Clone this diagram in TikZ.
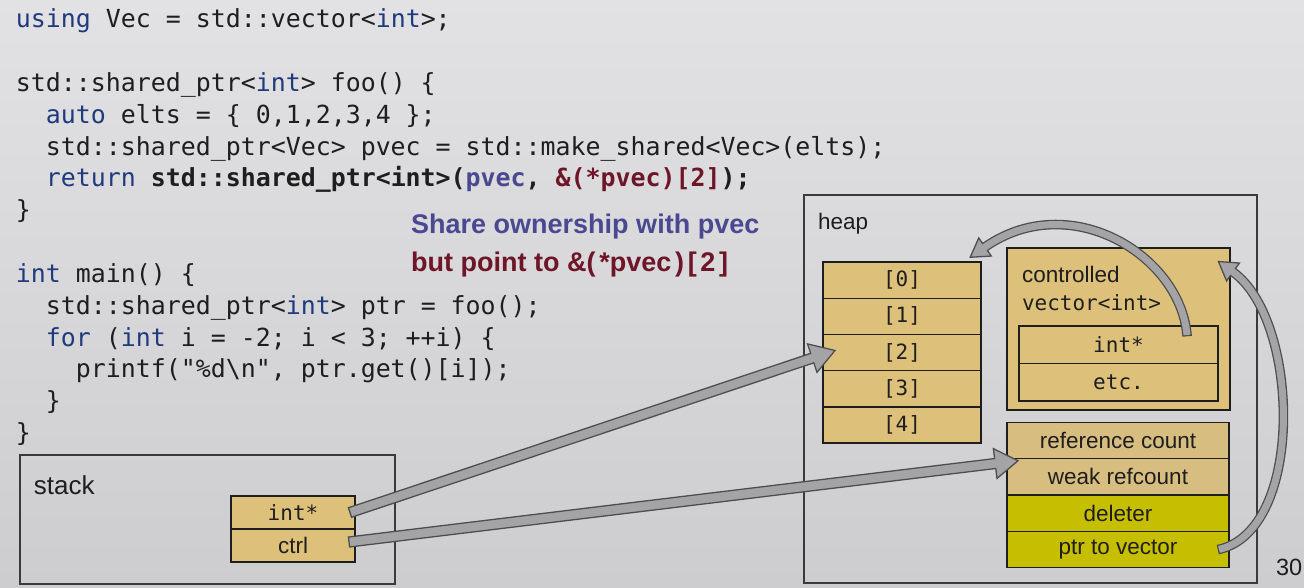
\documentclass[tikz,border=0pt]{standalone}
\usepackage{fontspec}
\setmainfont{Liberation Sans}
\setmonofont{DejaVu Sans Mono}
\usetikzlibrary{calc}

\definecolor{bgtop}{HTML}{E2E2E4}
\definecolor{bgbot}{HTML}{CDCDCF}
\definecolor{frameline}{HTML}{3A3A3A}
\definecolor{cellTan}{HTML}{DDC07A}
\definecolor{cellTanB}{HTML}{D8BD80}
\definecolor{cellOlive}{HTML}{C6BE00}
\definecolor{ink}{HTML}{1E1E1E}
\definecolor{kwblue}{HTML}{1F3A7D}
\definecolor{pvpurple}{HTML}{4A4890}
\definecolor{addrred}{HTML}{6E1528}
\definecolor{arrfill}{HTML}{A4A4A6}
\definecolor{arredge}{HTML}{4E4E50}

\newcommand\codefont{\fontsize{24.9pt}{30pt}\selectfont\ttfamily}
\newcommand\cellmono{\fontsize{21pt}{24pt}\selectfont\ttfamily}
\newcommand\cellsans{\fontsize{22.5pt}{26pt}\selectfont}
\newcommand\ckw[1]{\textcolor{kwblue}{#1}}
\newcommand\ind{\phantom{xx}}
\newcommand\gap{\hspace{3.7pt}}

% straight block arrow: from, to, half shaft, half head, head length
\newcommand\blockarrow[5]{%
  \coordinate (ba-s) at (#1);
  \coordinate (ba-e) at (#2);
  \coordinate (ba-h) at ($(ba-e)!#5!(ba-s)$);
  \filldraw[pointer]
    ($(ba-s)!#3!90:(ba-e)$) -- ($(ba-h)!#3!-90:(ba-s)$) --
    ($(ba-h)!#4!-90:(ba-s)$) -- (ba-e) --
    ($(ba-h)!#4!90:(ba-s)$) -- ($(ba-h)!#3!90:(ba-s)$) --
    ($(ba-s)!#3!-90:(ba-e)$) -- cycle;
}

% curved block arrow: start, control 1, control 2, head base
\newcommand\curvearrow[4]{%
  \coordinate (ca-s) at (#1);
  \coordinate (ca-a) at (#2);
  \coordinate (ca-b) at (#3);
  \coordinate (ca-e) at (#4);
  \draw[line width=9.6pt, arredge]
    ($(ca-s)!-1.3pt!(ca-a)$) -- (ca-s) .. controls (ca-a) and (ca-b) .. (ca-e);
  \filldraw[pointer]
    ($(ca-e)!11pt!90:(ca-b)$) -- ($(ca-e)!-18pt!(ca-b)$) --
    ($(ca-e)!11pt!-90:(ca-b)$) -- cycle;
  \draw[line width=7pt, arrfill]
    (ca-s) .. controls (ca-a) and (ca-b) .. (ca-e) -- ($(ca-e)!-2pt!(ca-b)$);
}

\begin{document}
\begin{tikzpicture}[x=1pt, y=-1pt,
  codeline/.style={anchor=base west, inner sep=0pt, outer sep=0pt, text=ink, font=\codefont},
  region/.style={draw=frameline, line width=1.2pt, anchor=north west, inner sep=0pt, outer sep=0pt},
  cell/.style={draw=ink, line width=1.4pt, fill=cellTan, anchor=north west,
    inner sep=0pt, outer sep=0pt, text=ink},
  arrcell/.style={cell, minimum width=158pt, minimum height=36.2pt, font=\cellmono},
  ctlcell/.style={cell, minimum width=222pt, minimum height=36.25pt, font=\cellsans},
  stkcell/.style={cell, minimum width=124pt, minimum height=33pt},
  caption/.style={anchor=base west, inner sep=0pt, outer sep=0pt, text=ink},
  notetext/.style={anchor=base west, inner sep=0pt, font=\fontsize{27pt}{30pt}\selectfont\bfseries},
  pointer/.style={fill=arrfill, draw=arredge, line width=1.3pt, line join=miter}]

\useasboundingbox (0,0) rectangle (1304,588);
\shade[top color=bgtop, bottom color=bgbot] (0,0) rectangle (1304,588);

% source code
\node[codeline] (c1)  at (16,28)    {\ckw{using} Vec = std::vector<\ckw{int}>;};
\node[codeline] (c3)  at (16,91.6)  {std::shared\_ptr<\ckw{int}> foo() \{};
\node[codeline] (c4)  at (16,123.4) {\ind\ckw{auto} elts = \{ 0,1,2,3,4 \};};
\node[codeline] (c5)  at (16,155.2) {\ind std::shared\_ptr<Vec> pvec = std::make\_shared<Vec>(elts);};
\node[codeline] (c6)  at (16,187)   {\ind\ckw{return} \textbf{std::shared\_ptr<int>(\textcolor{pvpurple}{pvec}, \textcolor{addrred}{\&(*pvec)[2]});}};
\node[codeline] (c7)  at (16,218.8) {\}};
\node[codeline] (c9)  at (16,282.4) {\ckw{int} main() \{};
\node[codeline] (c10) at (16,314.2) {\ind std::shared\_ptr<\ckw{int}> ptr = foo();};
\node[codeline] (c11) at (16,346)   {\ind\ckw{for} (\ckw{int} i = -2; i < 3; ++i) \{};
\node[codeline] (c12) at (16,377.8) {\ind\ind printf("\%d\textbackslash n", ptr.get()[i]);};
\node[codeline] (c13) at (16,409.6) {\ind\}};
\node[codeline] (c14) at (16,441.4) {\}};

% note
\node[notetext, text=pvpurple] (note1) at (411,234) {Share ownership with pvec};
\node[notetext, text=addrred]  (note2) at (411,271) {but point to \&(\gap*pvec\gap)\gap[\gap 2\gap]};

% heap region
\node[region, minimum width=453pt, minimum height=388pt] (heap) at (804,195) {};
\node[caption, font=\cellsans] (heaplbl) at (818,230) {heap};

% vector elements
\node[arrcell] (a0) at (823,262)   {[0]};
\node[arrcell] (a1) at (823,298.2) {[1]};
\node[arrcell] (a2) at (823,334.4) {[2]};
\node[arrcell] (a3) at (823,370.6) {[3]};
\node[arrcell] (a4) at (823,406.8) {[4]};

% controlled vector object
\node[cell, minimum width=223pt, minimum height=162pt] (ctl) at (1007,248) {};
\node[caption, font=\cellsans] (ctllbl1) at (1022,283) {controlled};
\node[caption, font=\cellmono] (ctllbl2) at (1022,310) {vector<int>};
\node[cell, minimum width=199pt, minimum height=37.5pt, font=\cellmono] (vint) at (1019,326) {int*};
\node[cell, minimum width=199pt, minimum height=37.5pt, font=\cellmono] (vetc) at (1019,363.5) {etc.};

% control block
\node[ctlcell, fill=cellTanB]  (rc)  at (1007,422.5)  {reference count};
\node[ctlcell, fill=cellTanB]  (wrc) at (1007,458.75) {weak refcount};
\node[ctlcell, fill=cellOlive] (del) at (1007,495)    {deleter};
\node[ctlcell, fill=cellOlive] (ptv) at (1007,531.25) {ptr to vector};

% stack region
\node[region, minimum width=375pt, minimum height=129pt] (stack) at (20,455) {};
\node[caption, font=\fontsize{26pt}{30pt}\selectfont] (stacklbl) at (34,494) {stack};
\node[stkcell, font=\cellmono] (sint)  at (231,496) {int*};
\node[stkcell, font=\cellsans] (sctrl) at (231,529) {ctrl};

% pointers
\blockarrow{[xshift=-5pt]sint.east}{[xshift=12pt, yshift=2pt]a2.west}{5pt}{15pt}{24pt}
\blockarrow{[xshift=-6pt, yshift=3.5pt]sctrl.east}{[xshift=11pt, yshift=-2pt]rc.south west}{5pt}{15pt}{23pt}
\curvearrow{[xshift=-31pt, yshift=-9pt]vint.north east}{1180,255}{1070,188}{[xshift=4pt, yshift=15pt]a0.north east}
\curvearrow{[xshift=-10pt]ptv.east}{1305,530}{1300,320}{[xshift=3pt, yshift=-24pt]ctl.north east}

% slide number
\node[caption, font=\fontsize{23.5pt}{26pt}\selectfont] (pageno) at (1276,575) {30};

\end{tikzpicture}
\end{document}
